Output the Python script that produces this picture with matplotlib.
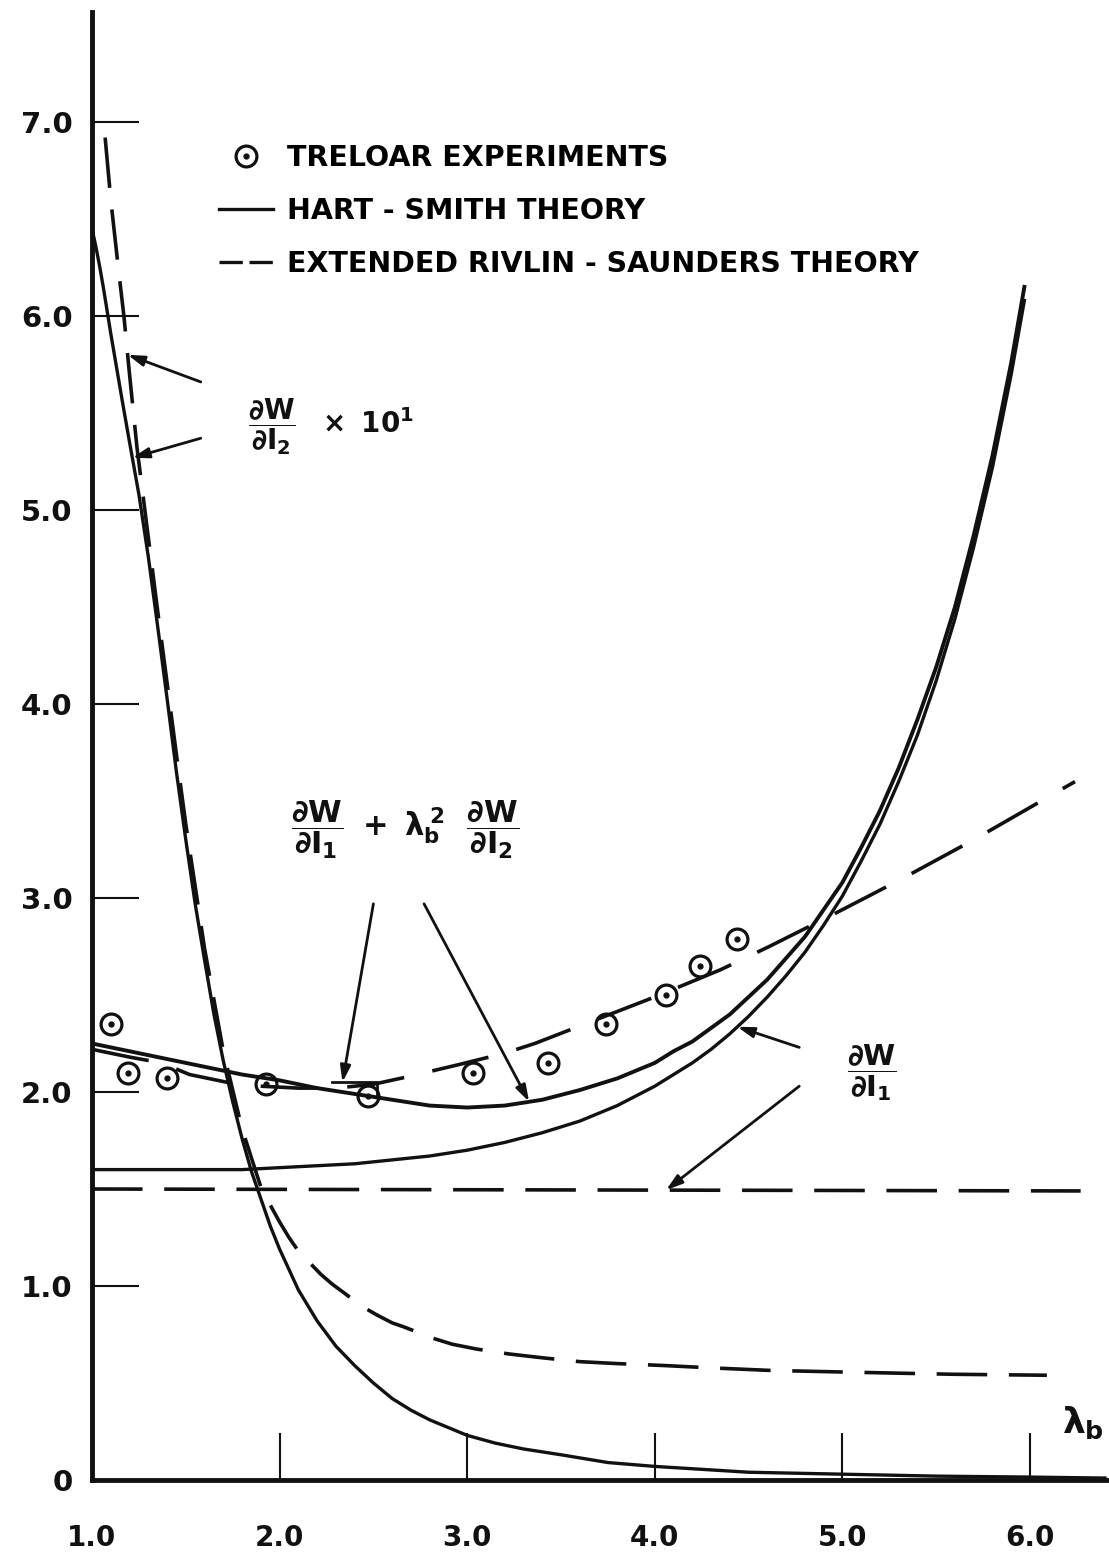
import matplotlib
matplotlib.use("Agg")
import numpy as np
import matplotlib.pyplot as plt
from matplotlib.lines import Line2D
from matplotlib.legend_handler import HandlerTuple

# ---- data: equibiaxial stretch lambda_b and strain-energy derivatives ----
# Hart-Smith theory, dW/dI2 x 10
hs_lam_i2 = [1.00, 1.02, 1.04, 1.06, 1.08, 1.10, 1.13, 1.16, 1.20, 1.25, 1.30,
             1.35, 1.40, 1.45, 1.50, 1.55, 1.60, 1.65, 1.70, 1.75, 1.80, 1.85,
             1.90, 1.95, 2.00, 2.10, 2.20, 2.30, 2.40, 2.50, 2.60, 2.70, 2.80,
             2.90, 3.00, 3.15, 3.30, 3.50, 3.75, 4.00, 4.25, 4.50, 5.00, 5.50,
             6.00, 6.40]
hs_i2x10 = [6.45, 6.36, 6.26, 6.15, 6.03, 5.91, 5.74, 5.57, 5.35, 5.08, 4.76,
            4.40, 4.03, 3.65, 3.30, 2.97, 2.68, 2.40, 2.16, 1.95, 1.76, 1.59,
            1.45, 1.31, 1.19, 0.98, 0.82, 0.69, 0.59, 0.50, 0.42, 0.36, 0.31,
            0.27, 0.23, 0.19, 0.16, 0.13, 0.09, 0.07, 0.055, 0.04, 0.03, 0.02,
            0.015, 0.01]

# Hart-Smith theory, dW/dI1 and dW/dI1 + lambda^2 dW/dI2
hs_lam = [1.0, 1.2, 1.4, 1.6, 1.8, 2.0, 2.2, 2.4, 2.6, 2.8, 3.0, 3.2, 3.4,
          3.6, 3.8, 4.0, 4.1, 4.2, 4.3, 4.4, 4.5, 4.6, 4.7, 4.8, 4.9, 5.0,
          5.1, 5.2, 5.3, 5.4, 5.5, 5.6, 5.7, 5.8, 5.9, 5.97]
hs_i1 = [1.60, 1.60, 1.60, 1.60, 1.60, 1.61, 1.62, 1.63, 1.65, 1.67, 1.70,
         1.74, 1.79, 1.85, 1.93, 2.03, 2.09, 2.15, 2.22, 2.30, 2.39, 2.49,
         2.60, 2.72, 2.86, 3.01, 3.19, 3.38, 3.60, 3.84, 4.12, 4.44, 4.81,
         5.22, 5.70, 6.08]
hs_sum = [2.25, 2.21, 2.17, 2.13, 2.09, 2.06, 2.02, 1.99, 1.96, 1.93, 1.92,
          1.93, 1.96, 2.01, 2.07, 2.15, 2.21, 2.26, 2.33, 2.40, 2.49, 2.58,
          2.69, 2.80, 2.94, 3.08, 3.26, 3.45, 3.67, 3.92, 4.19, 4.50, 4.87,
          5.28, 5.76, 6.15]

# Extended Rivlin-Saunders theory, dW/dI2 x 10
ers_lam_i2 = [1.07, 1.10, 1.14, 1.17, 1.20, 1.24, 1.30, 1.35, 1.40, 1.45, 1.50,
              1.60, 1.70, 1.80, 1.90, 1.96, 2.00, 2.05, 2.10, 2.16, 2.22, 2.28,
              2.35, 2.43, 2.52, 2.60, 2.66, 2.74, 2.82, 2.92, 3.05, 3.22, 3.40,
              3.60, 3.80, 4.05, 4.30, 4.61, 5.08, 5.59, 6.09]
ers_i2x10 = [6.92, 6.60, 6.25, 6.00, 5.70, 5.32, 4.86, 4.48, 4.11, 3.74, 3.38,
             2.74, 2.21, 1.81, 1.51, 1.40, 1.33, 1.25, 1.18, 1.12, 1.06, 1.01,
             0.96, 0.90, 0.85, 0.81, 0.79, 0.76, 0.73, 0.70, 0.675, 0.65, 0.63,
             0.61, 0.60, 0.59, 0.578, 0.565, 0.555, 0.545, 0.54]

# Extended Rivlin-Saunders theory, dW/dI1
ers_lam_i1 = [1.0, 6.27]
ers_i1 = [1.50, 1.49]

# Extended Rivlin-Saunders theory, dW/dI1 + lambda^2 dW/dI2
ers_lam_sum = [1.0, 1.2, 1.37, 1.52, 1.72, 1.9, 2.1, 2.3, 2.5, 2.69, 2.95,
               3.2, 3.36, 3.68, 4.0, 4.35, 4.61, 4.94, 5.3, 5.7, 6.24]
ers_sum = [2.22, 2.18, 2.15, 2.09, 2.05, 2.03, 2.02, 2.02, 2.04, 2.08, 2.14,
           2.20, 2.25, 2.37, 2.49, 2.63, 2.75, 2.91, 3.09, 3.30, 3.60]

# Treloar experiments
exp_lam = [1.10, 1.19, 1.40, 1.93, 2.47, 3.03, 3.43, 3.74, 4.06, 4.24, 4.44]
exp_val = [2.35, 2.10, 2.07, 2.04, 1.98, 2.10, 2.15, 2.35, 2.50, 2.65, 2.79]

x_ticks = [1.0, 2.0, 3.0, 4.0, 5.0, 6.0]
x_labels = ["1.0", "2.0", "3.0", "4.0", "5.0", "6.0"]
y_ticks = [0, 1, 2, 3, 4, 5, 6, 7]
y_labels = ["0", "1.0", "2.0", "3.0", "4.0", "5.0", "6.0", "7.0"]

legend_labels = ["TRELOAR EXPERIMENTS", "HART - SMITH THEORY",
                 "EXTENDED RIVLIN - SAUNDERS THEORY"]

# ---- styling ----
plt.rcParams["font.family"] = ["DejaVu Sans"]
plt.rcParams["mathtext.fontset"] = "custom"
plt.rcParams["mathtext.rm"] = "DejaVu Sans:bold"
plt.rcParams["mathtext.it"] = "DejaVu Sans:bold"
plt.rcParams["mathtext.bf"] = "DejaVu Sans:bold"

INK = "#111111"
LW = 2.4
DASH_SHORT = (14, 6)
DASH_LONG = (16, 8)

W, H = 1109, 1567
fig = plt.figure(figsize=(W / 100, H / 100), dpi=100)
fig.patch.set_facecolor("white")

px_x0, px_y0 = 92, 1480          # pixel position of (1.0, 0)
px_per_x, px_per_y = 187.6, 194.0
ax = fig.add_axes([px_x0 / W, (H - px_y0) / H,
                   (W - px_x0) / W, (px_y0 - 12) / H])
ax.set_xlim(1.0, 1.0 + (W - px_x0) / px_per_x)
ax.set_ylim(0, (px_y0 - 12) / px_per_y)
ax.set_facecolor("white")

for side in ("top", "right"):
    ax.spines[side].set_visible(False)
for side in ("left", "bottom"):
    ax.spines[side].set_linewidth(3.5)
    ax.spines[side].set_color(INK)

ax.set_xticks(x_ticks)
ax.set_xticklabels(x_labels)
ax.set_yticks(y_ticks)
ax.set_yticklabels(y_labels)
ax.tick_params(axis="x", direction="in", length=34, width=1.5, pad=32,
               labelsize=20, colors=INK)
ax.tick_params(axis="y", direction="in", length=34, width=1.5, pad=14,
               labelsize=21, colors=INK)
for lbl in ax.get_xticklabels() + ax.get_yticklabels():
    lbl.set_fontweight("bold")

# ---- curves ----
ax.plot(hs_lam_i2, hs_i2x10, color=INK, lw=LW, solid_joinstyle="round")
ax.plot(hs_lam, hs_i1, color=INK, lw=LW, solid_joinstyle="round")
ax.plot(hs_lam, hs_sum, color=INK, lw=LW + 0.4, solid_joinstyle="round")
ax.plot(ers_lam_i2, ers_i2x10, color=INK, lw=LW + 0.2, dashes=DASH_SHORT)
ax.plot(ers_lam_i1, ers_i1, color=INK, lw=LW + 0.2, dashes=DASH_SHORT)
ax.plot(ers_lam_sum, ers_sum, color=INK, lw=LW + 0.2, dashes=DASH_LONG)

# experimental points: open circle with a centre dot
ax.plot(exp_lam, exp_val, ls="none", marker="o", ms=15, mfc="none",
        mec=INK, mew=2.3)
ax.plot(exp_lam, exp_val, ls="none", marker="o", ms=3.5, color=INK)

# ---- legend ----
h_exp = (Line2D([], [], ls="none", marker="o", ms=15, mfc="none", mec=INK, mew=2.3),
         Line2D([], [], ls="none", marker="o", ms=3.5, color=INK))
h_hs = Line2D([], [], color=INK, lw=LW)
h_ers = Line2D([], [], color=INK, lw=LW, dashes=(7, 2))
ax.legend([h_exp, h_hs, h_ers], legend_labels,
          handler_map={tuple: HandlerTuple(ndivide=1, pad=0)},
          loc="upper left", bbox_to_anchor=((219 - px_x0) / (W - px_x0), 0.910),
          frameon=False, prop={"weight": "bold", "size": 20.5},
          handlelength=1.9, handletextpad=0.5, labelspacing=0.88,
          borderpad=0, borderaxespad=0)

# ---- annotations ----
arrow = dict(arrowstyle="-|>,head_length=0.7,head_width=0.22", color=INK,
             lw=2.0, shrinkA=0, shrinkB=0, mutation_scale=14)


def on(lams, vals, x):
    return (x, float(np.interp(x, lams, vals)))


ax.text(1.83, 5.43, r"$\dfrac{\partial W}{\partial I_2}\ \ \times\ 10^{1}$",
        fontsize=20, color=INK, ha="left", va="center")
ax.annotate("", xy=on(ers_lam_i2, ers_i2x10, 1.19), xytext=(1.58, 5.66),
            arrowprops=arrow)
ax.annotate("", xy=on(hs_lam_i2, hs_i2x10, 1.215), xytext=(1.58, 5.37),
            arrowprops=arrow)

ax.text(2.67, 3.35,
        r"$\dfrac{\partial W}{\partial I_1}\ +\ \lambda_b^{\,2}\ \ \dfrac{\partial W}{\partial I_2}$",
        fontsize=22, color=INK, ha="center", va="center")
# small bracket marking where the two sum curves coincide
bx0, bx1, by = 2.28, 2.52, 2.05
ax.plot([bx0, bx1, bx1], [by, by, np.interp(bx1, hs_lam, hs_sum)],
        color=INK, lw=2.0)
ax.annotate("", xy=(2.335, by), xytext=(2.50, 2.97), arrowprops=arrow)
ax.annotate("", xy=on(hs_lam, hs_sum, 3.33), xytext=(2.77, 2.97),
            arrowprops=arrow)

ax.text(5.16, 2.10, r"$\dfrac{\partial W}{\partial I_1}$", fontsize=21,
        color=INK, ha="center", va="center")
ax.annotate("", xy=on(hs_lam, hs_i1, 4.44), xytext=(4.77, 2.23),
            arrowprops=arrow)
ax.annotate("", xy=on(ers_lam_i1, ers_i1, 4.06), xytext=(4.77, 2.03),
            arrowprops=arrow)

ax.text(6.17, 0.20, r"$\lambda_b$", fontsize=26, color=INK,
        ha="left", va="bottom")

fig.savefig("out.png", dpi=100, facecolor="white")
